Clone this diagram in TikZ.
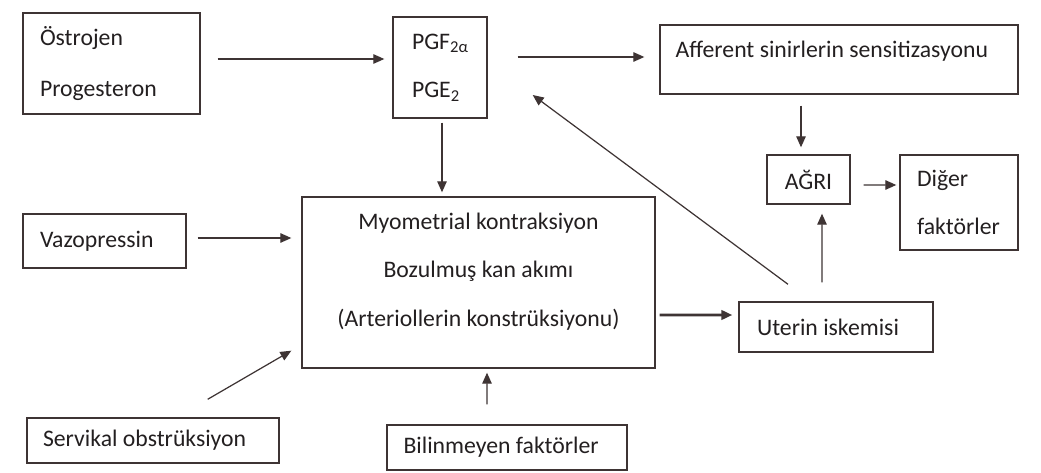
\documentclass[tikz,border=0pt]{standalone}
\usepackage{fontspec}
\setmainfont{Carlito}
\usetikzlibrary{arrows.meta}
\definecolor{ink}{RGB}{62,52,52}
\definecolor{yazi}{RGB}{35,31,32}
\tikzset{
  kutu/.style={draw=ink, line width=0.8pt, inner sep=0pt, align=flush left, text=yazi},
  ok/.style={draw=ink, line width=0.7pt, -{Triangle[length=0.22cm,width=0.19cm]}}
}
\begin{document}
\begin{tikzpicture}[x=0.02cm, y=-0.02cm, every node/.style={font=\fontsize{13.5}{27.6}\selectfont}]
                    \useasboundingbox (0,0) rectangle (1041,473);

                    % top row
                    \node[kutu, minimum width=3.54cm, minimum height=2.02cm, text width=2.86cm] (ostrojen) at (111.5,63.5) {Östrojen\\[1pt]Progesteron};
                    \node[kutu, minimum width=1.88cm, minimum height=2.02cm, text width=1.12cm] (pg) at (440,67.5) {PGF\textsubscript{2α}\\PGE\textsubscript{2}};
                    \node[kutu, minimum width=7.16cm, minimum height=1.38cm] (afferent) at (839,59.5) {};
                    \node[inner sep=0pt, anchor=west, text=yazi] (afferentyazi) at ([shift={(16,-8)}]afferent.west) {Afferent sinirlerin sensitizasyonu};

                    % right side
                    \node[kutu, minimum width=1.66cm, minimum height=0.98cm, align=center] (agri) at (808.5,179.5) {AĞRI};
                    \node[kutu, minimum width=2.36cm, minimum height=1.9cm, text width=1.68cm] (diger) at (959,202.5) {Diğer\\faktörler};
                    \node[kutu, minimum width=3.88cm, minimum height=1cm, text width=3.16cm] (uterin) at (836,327) {Uterin iskemisi};

                    % left and middle
                    \node[kutu, minimum width=3.26cm, minimum height=1.08cm, text width=2.58cm] (vazo) at (104.5,241) {Vazopressin};
                    \node[kutu, minimum width=7.06cm, minimum height=3.42cm] (myo) at (478.5,282.5) {};
                    \node[inner sep=0pt, align=center, text=yazi] (myoyazi) at ([shift={(0,-11)}]myo.center) {Myometrial kontraksiyon\\Bozulmuş kan akımı\\(Arteriollerin konstrüksiyonu)};
                    \node[kutu, minimum width=5.04cm, minimum height=0.9cm, text width=4.4cm] (servikal) at (153,440.5) {Servikal obstrüksiyon};
                    \node[kutu, minimum width=4.8cm, minimum height=0.9cm, text width=4.14cm] (bilinmeyen) at (507,447.5) {Bilinmeyen faktörler};

                    % arrows
                    \draw[ok] ([shift={(17,-4.5)}]ostrojen.east) -- ([shift={(-8,-8.5)}]pg.west);
                    \draw[ok] ([shift={(30,-10.5)}]pg.east) -- ([shift={(-15,-2.5)}]afferent.west);
                    \draw[ok] ([shift={(2,4)}]pg.south) -- ([shift={(-36.5,-4)}]myo.north);
                    \draw[ok] ([shift={(11,-3)}]vazo.east) -- ([shift={(-10,-44.5)}]myo.west);
                    \draw[ok] ([shift={(-72,-18)}]servikal.north east) -- ([shift={(-10,-18)}]myo.south west);
                    \draw[ok] ([shift={(-20,-20)}]bilinmeyen.north) -- ([shift={(8.5,4)}]myo.south);
                    \draw[ok, line width=1.5pt] ([shift={(4,32.5)}]myo.east) -- ([shift={(-6,-12)}]uterin.west);
                    \draw[ok] ([shift={(-48,-17)}]uterin.north) -- ([shift={(45,27.5)}]pg.east);
                    \draw[ok] ([shift={(-14,-19)}]uterin.north) -- ([shift={(13.5,9)}]agri.south);
                    \draw[ok] ([shift={(-38,11)}]afferent.south) -- ([shift={(-7.5,-7)}]agri.north);
                    \draw[ok] ([shift={(13,5.5)}]agri.east) -- ([shift={(-3,-17.5)}]diger.west);
                \end{tikzpicture}
\end{document}
